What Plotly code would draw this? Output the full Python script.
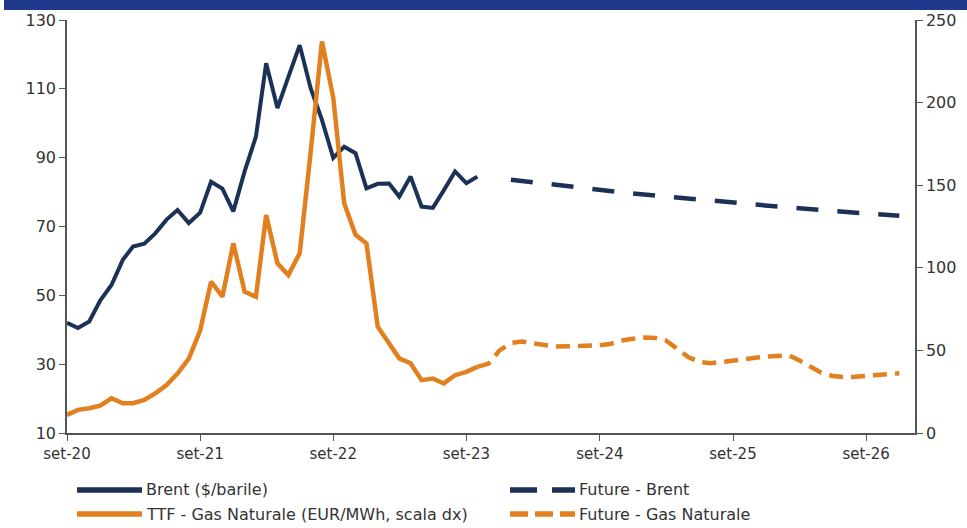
import pandas as pd
import plotly.graph_objects as go

# ---- data ----
actual_start = "2020-09-01"          # set-20
brent_future_start = "2024-01-01"    # gen-24
gas_future_start = "2023-10-01"      # ott-23

brent = [42.0, 40.5, 42.4, 48.5, 53.0, 60.3, 64.2, 65.0, 68.0, 72.0, 74.8, 71.0,
         74.0, 83.0, 81.0, 74.4, 86.0, 96.1, 117.4, 104.4, 113.5, 122.7, 110.2, 101.0,
         89.9, 93.2, 91.3, 81.1, 82.4, 82.5, 78.7, 84.5, 75.8, 75.4, 80.5, 86.0,
         82.6, 84.5]

ttf = [11.0, 14.0, 15.0, 16.5, 21.0, 18.0, 18.0, 20.0, 24.0, 29.0, 36.0, 45.0,
       62.0, 91.6, 82.5, 114.8, 85.5, 82.5, 131.9, 102.7, 95.6, 108.8, 170.0, 237.0,
       203.0, 139.0, 120.0, 114.8, 64.3, 54.3, 45.2, 42.2, 32.0, 33.0, 30.0, 35.0,
       37.0, 40.0]

brent_future = [83.6, 83.2, 82.9, 82.5, 82.1, 81.8, 81.4, 81.0, 80.6, 80.3, 79.9, 79.6,
                79.3, 78.9, 78.6, 78.3, 77.9, 77.6, 77.3, 77.0, 76.8, 76.5, 76.3, 76.0,
                75.8, 75.5, 75.3, 75.0, 74.8, 74.6, 74.3, 74.1, 73.8, 73.6, 73.3, 73.1]

gas_future = [40.0, 42.0, 50.0, 54.5, 55.3, 54.5, 53.0, 52.3, 52.5, 52.6, 52.8, 53.1,
              54.0, 56.0, 57.0, 57.8, 57.5, 56.0, 51.0, 46.0, 43.0, 42.3, 43.0, 44.0,
              44.8, 45.5, 46.2, 46.8, 47.0, 44.0, 40.3, 36.5, 34.5, 33.8, 34.0, 34.8,
              35.3, 35.7, 36.1]

tick_dates = ["2020-09-01", "2021-09-01", "2022-09-01", "2023-09-01",
              "2024-09-01", "2025-09-01", "2026-09-01"]
tick_labels = ["set-20", "set-21", "set-22", "set-23", "set-24", "set-25", "set-26"]

legend_names = ["Brent ($/barile)", "TTF - Gas Naturale (EUR/MWh, scala dx)",
                "Future - Brent", "Future - Gas Naturale"]

# ---- styles ----
NAVY = "#1b3157"
ORANGE = "#e27f1f"
BAND = "#1f3a8c"
TXT = "#333333"
AX = "#555555"
FONT = "DejaVu Sans, Liberation Sans, Arial"
BRENT_DASH = "22px,19px"
GAS_DASH = "14px,8px"

x_act = pd.date_range(actual_start, periods=len(brent), freq="MS")
x_bf = pd.date_range(brent_future_start, periods=len(brent_future), freq="MS")
x_gf = pd.date_range(gas_future_start, periods=len(gas_future), freq="MS")

fig = go.Figure()
fig.add_trace(go.Scatter(x=x_gf, y=gas_future, yaxis="y2", mode="lines",
                         line=dict(color=ORANGE, width=4.5, dash=GAS_DASH),
                         name=legend_names[3], showlegend=False))
fig.add_trace(go.Scatter(x=x_act, y=ttf, yaxis="y2", mode="lines",
                         line=dict(color=ORANGE, width=4.5),
                         name=legend_names[1], showlegend=False))
fig.add_trace(go.Scatter(x=x_bf, y=brent_future, mode="lines",
                         line=dict(color=NAVY, width=4.5, dash=BRENT_DASH),
                         name=legend_names[2], showlegend=False))
fig.add_trace(go.Scatter(x=x_act, y=brent, mode="lines",
                         line=dict(color=NAVY, width=4),
                         name=legend_names[0], showlegend=False))

W, H = 967, 528
L, R, T, B = 67, 52, 20, 95
pw, ph = W - L - R, H - T - B


def px(x):
    return (x - L) / pw


def py(y):
    return (H - B - y) / ph


shapes = [
    dict(type="rect", xref="paper", yref="paper", x0=px(4), x1=px(967),
         y0=py(10), y1=py(0), fillcolor=BAND, line=dict(width=0), layer="above"),
]
annotations = []
legend_items = [
    (legend_names[0], NAVY, "solid", 77, 490),
    (legend_names[1], ORANGE, "solid", 77, 514),
    (legend_names[2], NAVY, "27px,15px", 510, 490),
    (legend_names[3], ORANGE, "18px,7px", 510, 514),
]
for name, col, dash, x0, yy in legend_items:
    shapes.append(dict(type="line", xref="paper", yref="paper",
                       x0=px(x0), x1=px(x0 + 65), y0=py(yy), y1=py(yy),
                       line=dict(color=col, width=5.5, dash=dash)))
    annotations.append(dict(xref="paper", yref="paper", x=px(x0 + 67), y=py(yy),
                            xanchor="left", yanchor="middle", text=name,
                            showarrow=False,
                            font=dict(size=16, color=TXT, family=FONT)))

axis_common = dict(showline=True, linecolor=AX, linewidth=1.5, ticks="outside",
                   ticklen=6, tickcolor=AX, showgrid=False, zeroline=False)

fig.update_layout(
    width=W, height=H,
    margin=dict(l=L, r=R, t=T, b=B),
    paper_bgcolor="white", plot_bgcolor="white",
    font=dict(family=FONT, size=15, color=TXT),
    showlegend=False,
    xaxis=dict(type="date", range=["2020-09-01", "2027-01-13"],
               tickvals=tick_dates, ticktext=tick_labels,
               tickfont=dict(size=15, color=TXT, family=FONT), **axis_common),
    yaxis=dict(range=[10, 130], tickvals=[10, 30, 50, 70, 90, 110, 130],
               tickfont=dict(size=16, color=TXT, family=FONT), **axis_common),
    yaxis2=dict(range=[0, 250], tickvals=[0, 50, 100, 150, 200, 250],
                overlaying="y", side="right",
                tickfont=dict(size=16, color=TXT, family=FONT), **axis_common),
    shapes=shapes,
    annotations=annotations,
)

fig.write_html("out.html",
               config={"displayModeBar": False},
               post_script="document.body.style.margin='0';document.body.style.overflow='hidden';")
